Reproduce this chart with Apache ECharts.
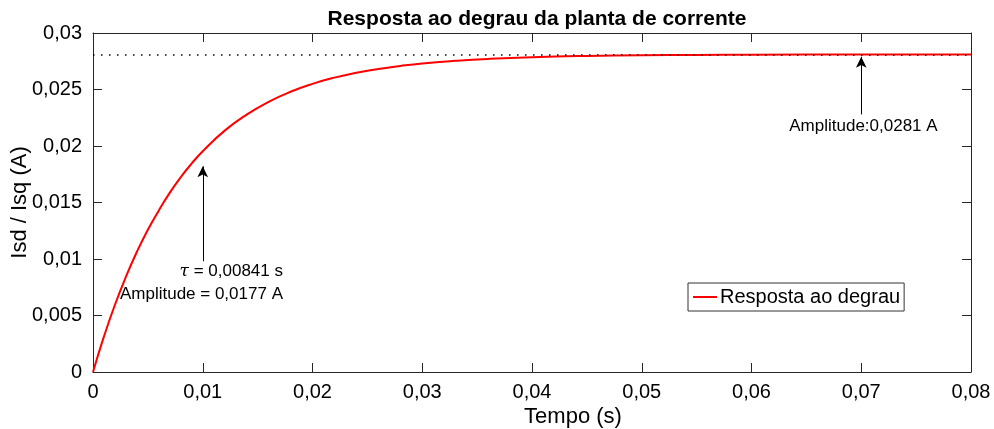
<!DOCTYPE html>
<html>
<head>
<meta charset="utf-8">
<script src="https://cdn.jsdelivr.net/npm/echarts@6/dist/echarts.min.js"></script>
<style>
html,body{margin:0;padding:0;background:#fff;}
#chart{width:994px;height:429px;}
</style>
</head>
<body>
<div id="chart"></div>
<script>
// ---- data ----
const timeValues = [0, 0.001, 0.002, 0.003, 0.004, 0.005, 0.006, 0.007, 0.008, 0.009, 0.010,
  0.012, 0.014, 0.016, 0.018, 0.020, 0.022, 0.024, 0.026, 0.028, 0.030, 0.033, 0.036,
  0.040, 0.045, 0.050, 0.055, 0.060, 0.070, 0.080];
const responseValues = [0, 0.00315, 0.00595, 0.00843, 0.01064, 0.01259, 0.0143, 0.01587, 0.01725, 0.01846, 0.01954,
  0.02136, 0.02278, 0.02391, 0.0248, 0.0255, 0.02605, 0.02648, 0.02682, 0.02709, 0.02731, 0.02754, 0.02771,
  0.02786, 0.02797, 0.02803, 0.02806, 0.02808, 0.0281, 0.0281];
const xTickLabels = ['0', '0,01', '0,02', '0,03', '0,04', '0,05', '0,06', '0,07', '0,08'];
const yTickLabels = ['0', '0,005', '0,01', '0,015', '0,02', '0,025', '0,03'];
const steadyValue = 0.0281;
const tauArrow = [[0.01, 0.0098], [0.01, 0.0182]];
const ampArrow = [[0.07, 0.0228], [0.07, 0.0279]];
const tauText = '{tau|τ} = 0,00841 s\nAmplitude = 0,0177 A';
const ampText = 'Amplitude:0,0281 A';
const tauTextAt = [0.01731, 0.00786];
const ampTextAt = [0.0702, 0.0217];
const seriesName = 'Resposta ao degrau';
const titleText = 'Resposta ao degrau da planta de corrente';

const FONT = "'Liberation Sans', Arial, sans-serif";
const AX = '#262626';
const chart = echarts.init(document.getElementById('chart'), null, {renderer: 'canvas'});

const xIdx = v => xTickLabels[Math.round(v / 0.01)];
const yIdx = v => yTickLabels[Math.round(v / 0.005)];

const baseX = {
  type: 'value', min: 0, max: 0.08, interval: 0.01,
  axisLine: {show: true, onZero: false, lineStyle: {color: AX, width: 1}},
  axisTick: {show: true, inside: true, length: 9, lineStyle: {color: AX}},
  splitLine: {show: false}
};
const baseY = {
  type: 'value', min: 0, max: 0.03, interval: 0.005,
  axisLine: {show: true, onZero: false, lineStyle: {color: AX, width: 1}},
  axisTick: {show: true, inside: true, length: 9, lineStyle: {color: AX}},
  splitLine: {show: false}
};

chart.setOption({
  animation: false,
  backgroundColor: '#fff',
  textStyle: {fontFamily: FONT},
  title: {
    text: titleText, left: 532, top: 4, textAlign: 'center',
    textStyle: {fontFamily: FONT, fontWeight: 'bold', fontSize: 21, color: '#000'}
  },
  grid: {left: 93, right: 23, top: 33, bottom: 57, containLabel: false, outerBoundsMode: 'none'},
  legend: {
    data: [{name: seriesName, icon: 'rect'}],
    left: 688, top: 283, itemWidth: 24, itemHeight: 2,
    padding: [4, 4, 4, 5],
    borderColor: '#333', borderWidth: 1, backgroundColor: '#fff', borderRadius: 0,
    textStyle: {fontFamily: FONT, fontSize: 20, color: '#000', padding: [0, 0, 0, -2]}
  },
  xAxis: [
    Object.assign({}, baseX, {
      position: 'bottom',
      axisLabel: {show: true, margin: 10, fontSize: 20, color: '#000', fontFamily: FONT, formatter: xIdx},
      name: 'Tempo (s)', nameLocation: 'middle', nameGap: 34, nameMoveOverlap: false,
      nameTextStyle: {fontSize: 22, color: '#000', fontFamily: FONT, padding: [0, 0, 0, 82]}
    }),
    Object.assign({}, baseX, {position: 'top', axisLabel: {show: false}})
  ],
  yAxis: [
    Object.assign({}, baseY, {
      position: 'left',
      axisLabel: {show: true, margin: 11, fontSize: 20, color: '#000', fontFamily: FONT, formatter: yIdx},
      name: 'Isd / Isq (A)', nameLocation: 'middle', nameGap: 62, nameMoveOverlap: false,
      nameTextStyle: {fontSize: 22, color: '#000', fontFamily: FONT}
    }),
    Object.assign({}, baseY, {position: 'right', axisLabel: {show: false}})
  ],
  series: [
    {
      name: 'guides', type: 'line', data: [], silent: true,
      markLine: {
        silent: true, animation: false,
        label: {show: false},
        data: [
          [{coord: [0, steadyValue], symbol: 'none'}, {coord: [0.08, steadyValue], symbol: 'none'}]
        ],
        lineStyle: {color: '#000', width: 1.5, type: [1.5, 6.5]}
      },
      z: 1
    },
    {
      name: seriesName, type: 'line', smooth: true, showSymbol: false, symbol: 'none',
      data: timeValues.map((t, i) => [t, responseValues[i]]),
      lineStyle: {color: '#ff0000', width: 2},
      itemStyle: {color: '#ff0000'},
      z: 3
    },
    {
      name: 'arrows', type: 'line', data: [], silent: true,
      markLine: {
        silent: true, animation: false,
        label: {show: false},
        symbol: ['none', 'arrow'], symbolSize: [8, 11],
        lineStyle: {color: '#000', width: 1, type: 'solid'},
        data: [
          [{coord: tauArrow[0]}, {coord: tauArrow[1]}],
          [{coord: ampArrow[0]}, {coord: ampArrow[1]}]
        ]
      },
      z: 4
    },
    {
      name: 'notes', type: 'scatter', symbolSize: 0, silent: true,
      data: [
        {value: tauTextAt, label: {formatter: tauText, align: 'right'}},
        {value: ampTextAt, label: {formatter: ampText, align: 'center'}}
      ],
      label: {
        show: true, position: [0, 0], verticalAlign: 'middle',
        fontSize: 17, color: '#000', fontFamily: FONT, lineHeight: 23, opacity: 1,
        rich: {tau: {fontStyle: 'italic', fontFamily: "'DejaVu Serif', serif", fontSize: 17, color: '#000', lineHeight: 23}}
      },
      itemStyle: {opacity: 1},
      z: 5
    }
  ]
});
</script>
</body>
</html>
